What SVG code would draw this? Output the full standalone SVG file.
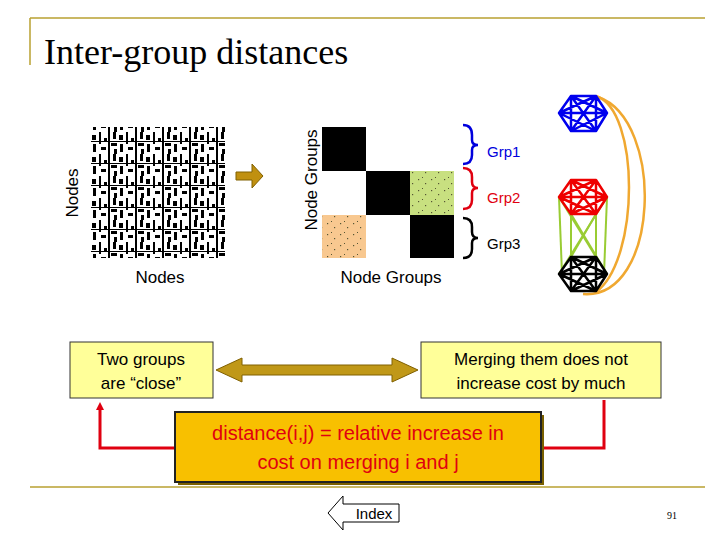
<svg xmlns="http://www.w3.org/2000/svg" width="720" height="540" viewBox="0 0 720 540">
<style>
.s{font-family:"Liberation Sans",Arial,sans-serif}
.box{fill:#ffff99;stroke:#333;stroke-width:1}
.k{fill:none;stroke-width:2.5;stroke-linejoin:round}
.g{stroke:#99cc33;stroke-width:2}
.o{fill:none;stroke:#f0a830;stroke-width:2.5}
.r{fill:none;stroke:#e00010;stroke-width:3}
</style>
<defs>
<pattern id="noise" width="27" height="22" patternUnits="userSpaceOnUse">
<rect width="27" height="22" fill="#fff"/>
<rect x="0" y="0" width="2" height="22" fill="#000"/>
<rect x="5" y="0" width="3" height="7" fill="#000"/>
<rect x="11" y="3" width="4" height="5" fill="#000"/>
<rect x="18" y="0" width="2" height="12" fill="#000"/>
<rect x="23" y="6" width="3" height="4" fill="#000"/>
<rect x="3" y="11" width="6" height="3" fill="#000"/>
<rect x="12" y="12" width="3" height="8" fill="#000"/>
<rect x="20" y="15" width="5" height="3" fill="#000"/>
<rect x="6" y="17" width="3" height="5" fill="#000"/>
<rect x="0" y="9" width="27" height="1" fill="#000"/>
</pattern>
<pattern id="dots" width="13" height="11" patternUnits="userSpaceOnUse">
<rect x="2" y="3" width="1.2" height="1.2" fill="#553"/>
<rect x="9" y="7" width="1.2" height="1.2" fill="#553"/>
<rect x="6" y="1" width="1" height="1" fill="#553"/>
</pattern>
<marker id="ah" markerWidth="8" markerHeight="8" refX="4" refY="4" orient="auto" markerUnits="userSpaceOnUse"><path d="M0,0 L8,4 L0,8 Z" fill="#e00010"/></marker>
</defs>

<g id="frame" stroke="#b8a030" stroke-width="1.5">
<line x1="30" y1="18" x2="705" y2="18"/>
<line x1="30" y1="18" x2="30" y2="65"/>
<line x1="30" y1="487" x2="705" y2="487"/>
</g>
<text class="s" x="44" y="64" font-family="Liberation Serif,serif" style="font-family:'Liberation Serif',serif" font-size="36" fill="#000">Inter-group distances</text>

<g id="matrix">
<rect x="91" y="127" width="134" height="131" fill="url(#noise)"/>
<text class="s" x="78" y="193" font-size="17" transform="rotate(-90 78 193)" text-anchor="middle">Nodes</text>
<text class="s" x="160" y="283" font-size="17" text-anchor="middle">Nodes</text>
</g>
<g id="arrow1"><path d="M236,172 H252 V164 L263,176 L252,188 V180 H236 Z" fill="#c09010" stroke="#806000" stroke-width="1"/></g>
<g id="groupmatrix">
<rect x="322" y="127" width="133" height="131" fill="#fff"/>
<rect x="322" y="127" width="44" height="44" fill="#000"/>
<rect x="366" y="171" width="44" height="44" fill="#000"/>
<rect x="410" y="215" width="44" height="43" fill="#000"/>
<rect x="410" y="171" width="44" height="44" fill="#c8e080"/>
<rect x="410" y="171" width="44" height="44" fill="url(#dots)"/>
<rect x="322" y="215" width="44" height="43" fill="#f8c890"/>
<rect x="322" y="215" width="44" height="43" fill="url(#dots)"/>
<text class="s" x="317" y="180" font-size="17" transform="rotate(-90 317 180)" text-anchor="middle">Node Groups</text>
<text class="s" x="391" y="283" font-size="17" text-anchor="middle">Node Groups</text>
</g>
<g id="braces" fill="none" stroke-width="2.5">
<path d="M463,125 Q472,125 472,135 V140 Q472,145 478,145 Q472,145 472,150 V155 Q472,164 463,164" stroke="#0000dd"/>
<path d="M463,168 Q472,168 472,177 V182 Q472,188 478,188 Q472,188 472,193 V200 Q472,209 463,209" stroke="#e00010"/>
<path d="M463,218 Q472,218 472,227 V232 Q472,238 478,238 Q472,238 472,243 V249 Q472,258 463,258" stroke="#000"/>
</g>
<text class="s" x="487" y="157" font-size="15" fill="#0000dd">Grp1</text>
<text class="s" x="487" y="203" font-size="15" fill="#e00010">Grp2</text>
<text class="s" x="487" y="249" font-size="15" fill="#000">Grp3</text>

<g id="connectors">
<g class="g">
<line x1="559" y1="197" x2="562" y2="274"/>
<line x1="559" y1="197" x2="596" y2="257"/>
<line x1="571" y1="214" x2="571" y2="257"/>
<line x1="571" y1="214" x2="607" y2="274"/>
<line x1="596" y1="214" x2="571" y2="257"/>
<line x1="596" y1="214" x2="596" y2="257"/>
<line x1="607" y1="197" x2="604" y2="274"/>
<line x1="607" y1="197" x2="559" y2="274"/>
</g>
<path class="o" d="M596,96 C640,110 640,260 596,292"/>
<path class="o" d="M598,97 C665,120 660,300 583,294"/>
<path class="r" d="M542,448 H604 V400"/>
<path class="r" d="M175,448 H100 V406" marker-end="url(#ah)"/>
<path d="M216,370 L242,358 V365 H392 V358 L418,370 L392,382 V375 H242 V382 Z" fill="#c09818" stroke="#806000" stroke-width="1"/>
</g>

<g id="hexes" class="k">
<g id="blue" stroke="#0000ee">
<path d="M559,113 L571,96 L596,96 L607,113 L596,131 L571,131 Z M559,113 L596,96 L596,131 Z M571,96 L607,113 L571,131 Z M559,113 L607,113 M571,96 L596,131 M596,96 L571,131"/>
</g>
<g id="red" stroke="#ee0000">
<path d="M559,197 L571,180 L596,180 L607,197 L596,214 L571,214 Z M559,197 L596,180 L596,214 Z M571,180 L607,197 L571,214 Z M559,197 L607,197 M571,180 L596,214 M596,180 L571,214"/>
</g>
<g id="black" stroke="#000">
<path d="M559,274 L571,257 L596,257 L607,274 L596,291 L571,291 Z M559,274 L596,257 L596,291 Z M571,257 L607,274 L571,291 Z M559,274 L607,274 M571,257 L596,291 M596,257 L571,291"/>
</g>
</g>

<g id="left">
<rect class="box" x="70" y="342" width="143" height="56"/>
<text class="s" x="141" y="365" font-size="17" text-anchor="middle">Two groups</text>
<text class="s" x="141" y="389" font-size="17" text-anchor="middle">are “close”</text>
</g>
<g id="right">
<rect class="box" x="421" y="342" width="240" height="56"/>
<text class="s" x="541" y="365" font-size="17" text-anchor="middle">Merging them does not</text>
<text class="s" x="541" y="389" font-size="17" text-anchor="middle">increase cost by much</text>
</g>
<g id="center">
<rect x="178" y="415" width="366" height="70" fill="#7a6000"/>
<rect x="175" y="412" width="366" height="70" fill="#f8c000" stroke="#222" stroke-width="2"/>
<text class="s" x="358" y="440" font-size="20" fill="#e00010" text-anchor="middle">distance(i,j) = relative increase in</text>
<text class="s" x="358" y="469" font-size="20" fill="#e00010" text-anchor="middle">cost on merging i and j</text>
</g>
<g id="index">
<path d="M328,513 L343,496 V504 H399 V522 H343 V530 Z" fill="#fff" stroke="#000" stroke-width="1"/>
<text class="s" x="374" y="519" font-size="15" text-anchor="middle">Index</text>
</g>
<text x="672" y="519" font-size="10" style="font-family:'Liberation Serif',serif" text-anchor="middle">91</text>
</svg>
